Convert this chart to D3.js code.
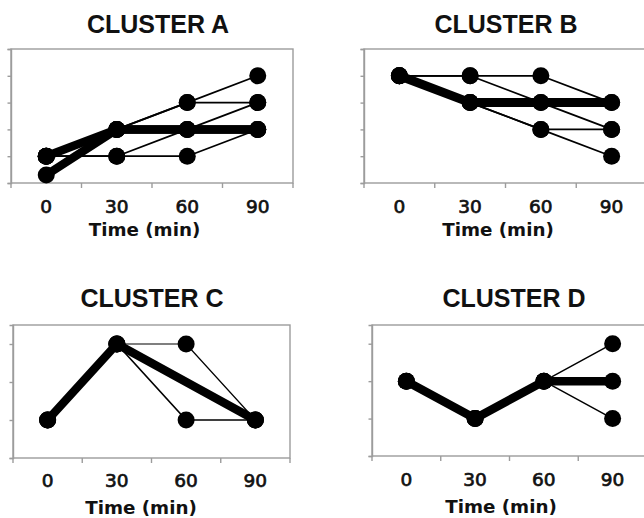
<!DOCTYPE html>
<html><head><meta charset="utf-8">
<script src="https://cdn.jsdelivr.net/npm/d3@7"></script>
<style>body{margin:0;background:#fff}svg{display:block}</style>
</head><body><svg id="chart" width="644" height="518"></svg>
<script>
// ---- data ----
const timeLabels = ["0", "30", "60", "90"];
const clusterTitles = ["CLUSTER A", "CLUSTER B", "CLUSTER C", "CLUSTER D"];
const xAxisTitle = "Time (min)";
const clusterA = [[1,1,1,2],[1,1,2,3],[1,2,3,4],[1,2,3,3],[1,2,2,2],[0.3,2,2,2]];
const clusterB = [[4,4,4,3],[4,4,3,2],[4,3,2,2],[4,3,2,1],[4,3,3,3]];
const clusterC = [[1,3,3,1],[1,3,1,1],[1,3,null,1]];
const clusterD = [[2,1,2,3],[2,1,2,1],[2,1,2,2]];
const yMaxAB = 5, yMaxCD = 3.5;
const yTicksAB = [0,1,2,3,4,5];
const yTicksCD = [0,1,2,3];

// ---- styles (line widths per series) ----
const widthsA = [1.7,1.7,1.7,1.7,8.5,8.5];
const widthsB = [1.7,1.7,1.7,1.7,9];
const widthsC = [1.2,1.7,8.5];
const widthsD = [1.5,1.5,8.5];

// ---- layout ----
const panels = [
  {title: clusterTitles[0], series: clusterA, widths: widthsA, yMax: yMaxAB, yTicks: yTicksAB,
   left: 11, right: 293, top: 49, bottom: 183, titleX: 158, titleY: 33, tickY: 212.7, axTX: 144.5, axTY: 236},
  {title: clusterTitles[1], series: clusterB, widths: widthsB, yMax: yMaxAB, yTicks: yTicksAB,
   left: 364, right: 647, top: 49, bottom: 183, titleX: 506, titleY: 33, tickY: 212.7, axTX: 498, axTY: 236},
  {title: clusterTitles[2], series: clusterC, widths: widthsC, yMax: yMaxCD, yTicks: yTicksCD,
   left: 13, right: 290, top: 325, bottom: 458, titleX: 152, titleY: 307, tickY: 486.5, axTX: 141, axTY: 514},
  {title: clusterTitles[3], series: clusterD, widths: widthsD, yMax: yMaxCD, yTicks: yTicksCD,
   left: 372, right: 647, top: 325, bottom: 456, titleX: 514, titleY: 307, tickY: 486, axTX: 501, axTY: 513}
];

const svg = d3.select("#chart");
svg.append("rect").attr("width", 644).attr("height", 518).attr("fill", "#fff");
const gray = "#9c9c9c";

panels.forEach(p => {
  const g = svg.append("g");
  const x = d3.scaleBand().domain(timeLabels).range([p.left, p.right]).paddingInner(0).paddingOuter(0);
  const y = d3.scaleLinear().domain([0, p.yMax]).range([p.bottom, p.top]);
  const cx = t => x(t) + x.bandwidth() / 2;

  // plot area border
  g.append("rect").attr("x", p.left).attr("y", p.top)
    .attr("width", p.right - p.left).attr("height", p.bottom - p.top)
    .attr("fill", "none").attr("stroke", gray).attr("stroke-width", 1.4);

  // y axis (ticks only)
  const ya = g.append("g").attr("transform", `translate(${p.left},0)`)
    .call(d3.axisLeft(y).tickValues(p.yTicks).tickSize(3.5).tickFormat(""));
  ya.selectAll("path").attr("stroke", gray).attr("stroke-width", 1.4);
  ya.selectAll("line").attr("stroke", gray).attr("stroke-width", 1.4);

  // x axis: tick marks at category boundaries, labels at centers
  const edges = timeLabels.map(t => x(t)).concat([x(timeLabels[timeLabels.length - 1]) + x.bandwidth()]);
  g.selectAll(".xt").data(edges).enter().append("line")
    .attr("x1", d => d).attr("x2", d => d)
    .attr("y1", p.bottom).attr("y2", p.bottom + 5)
    .attr("stroke", gray).attr("stroke-width", 1.4);
  g.selectAll(".xl").data(timeLabels).enter().append("text")
    .attr("x", d => cx(d)).attr("y", p.tickY)
    .attr("text-anchor", "middle")
    .attr("font-family", "DejaVu Sans").attr("font-size", 18.5)
    .attr("fill", "#111").attr("stroke", "#111").attr("stroke-width", 0.7)
    .text(d => d);

  // axis title
  g.append("text").attr("x", p.axTX).attr("y", p.axTY)
    .attr("text-anchor", "middle")
    .attr("font-family", "DejaVu Sans").attr("font-weight", "bold").attr("font-size", 18.3)
    .attr("fill", "#111").text(xAxisTitle);

  // chart title
  g.append("text").attr("x", p.titleX).attr("y", p.titleY)
    .attr("text-anchor", "middle")
    .attr("font-family", "Liberation Sans, Arial, sans-serif").attr("font-weight", "bold").attr("font-size", 25)
    .attr("fill", "#111").text(p.title);

  const line = d3.line().x(d => cx(d.t)).y(d => y(d.v));
  const seriesPts = p.series.map(s => s.map((v, i) => ({t: timeLabels[i], v})).filter(d => d.v != null));

  // lines: thin first, thick last
  const order = p.series.map((s, i) => i).sort((a, b) => p.widths[a] - p.widths[b]);
  order.forEach(i => {
    g.append("path").datum(seriesPts[i])
      .attr("d", line).attr("fill", "none")
      .attr("stroke", "#000").attr("stroke-width", p.widths[i])
      .attr("stroke-linejoin", "round").attr("stroke-linecap", "round");
  });

  // markers
  seriesPts.forEach(pts => {
    g.selectAll(null).data(pts).enter().append("circle")
      .attr("cx", d => cx(d.t)).attr("cy", d => y(d.v)).attr("r", 8.5)
      .attr("fill", "#000");
  });
});
</script>
</body></html>
